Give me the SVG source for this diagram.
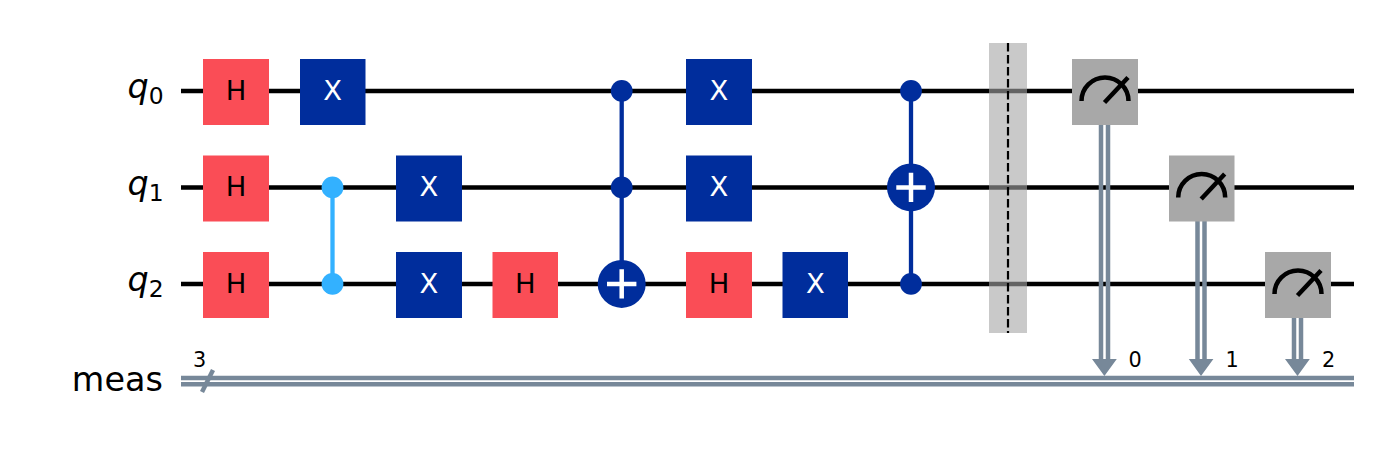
<svg xmlns="http://www.w3.org/2000/svg" width="1376" height="454" viewBox="0 0 1376 454">
<style>
text{font-family:"DejaVu Sans",sans-serif}
.wire{stroke:#000;stroke-width:4.500;fill:none}
.cw{stroke:#778899;stroke-width:4.500;fill:none}
.ah{fill:#778899}
.h{fill:#fa4d56}
.x{fill:#002d9c}
.m{fill:#a8a8a8}
.gt{font-size:27.400px;text-anchor:middle}
.lb{font-size:33.400px}
.q{font-style:italic}
.sub{font-size:23.400px}
.num{font-size:20.800px;text-anchor:middle}
.blue{stroke:#002d9c;stroke-width:4.300;fill:none}
.plus{stroke:#fff;stroke-width:4.500;fill:none}
.arc{stroke:#000;stroke-width:4.500;fill:none}
</style>
<defs>
<g id="mg"><path class="arc" d="M-23.500,10 A23.500,23.500 0 0 1 23.500,10"/><path class="arc" d="M-0.500,11.500 L23,-13.500"/></g>
</defs>
<g id="connectors">
<path class="wire" d="M181,90.900H1354M181,187.400H1354M181,283.900H1354"/>
<path class="cw" d="M181,378H1354M181,384.300H1354"/>
<path class="cw" d="M202,392L213,370"/>
<path stroke="#33b1ff" stroke-width="4.300" fill="none" d="M332.500,187.400V283.900"/>
<path class="blue" d="M621.700,90.900V283.900M911,90.900V283.900"/>
<path class="cw" d="M1101,125V362M1108,125V362M1197.500,221V362M1204.500,221V362M1294,317V362M1301,317V362"/>
<path class="ah" d="M1092,359H1116.800L1104.400,376ZM1188.800,359H1213.400L1201,376ZM1285,359H1309.800L1297.500,376Z"/>
</g>
<g id="label-q0"><text class="lb q" x="127.500" y="98.300">q</text><text class="sub" x="148.800" y="104.200">0</text></g>
<g id="label-q1"><text class="lb q" x="127.500" y="194.800">q</text><text class="sub" x="148.800" y="200.700">1</text></g>
<g id="label-q2"><text class="lb q" x="127.500" y="291.300">q</text><text class="sub" x="148.800" y="297.200">2</text></g>
<g id="label-meas"><text class="lb" x="162.800" y="390.500" text-anchor="end">meas</text></g>
<g id="reg-size"><text class="num" x="199.500" y="367">3</text></g>
<g id="h-q0"><rect class="h" x="203" y="59" width="66" height="66"/><text class="gt" x="236" y="99.800">H</text></g>
<g id="h-q1"><rect class="h" x="203" y="155.500" width="66" height="66"/><text class="gt" x="236" y="196.300">H</text></g>
<g id="h-q2"><rect class="h" x="203" y="252" width="66" height="66"/><text class="gt" x="236" y="292.800">H</text></g>
<g id="x-q0-1"><rect class="x" x="300" y="59" width="65.500" height="66"/><text class="gt" x="332.700" y="99.800" fill="#fff">X</text></g>
<g id="cz"><circle cx="332.500" cy="187.400" r="10.900" fill="#33b1ff"/><circle cx="332.500" cy="283.900" r="10.900" fill="#33b1ff"/></g>
<g id="x-q1-1"><rect class="x" x="396" y="155.500" width="66" height="66"/><text class="gt" x="429" y="196.300" fill="#fff">X</text></g>
<g id="x-q2-1"><rect class="x" x="396" y="252" width="66" height="66"/><text class="gt" x="429" y="292.800" fill="#fff">X</text></g>
<g id="h-q2-2"><rect class="h" x="492.500" y="252" width="65.500" height="66"/><text class="gt" x="525.300" y="292.800">H</text></g>
<g id="ccx-1"><circle cx="621.700" cy="90.900" r="10.900" fill="#002d9c"/><circle cx="621.700" cy="187.400" r="10.900" fill="#002d9c"/><circle cx="621.700" cy="283.900" r="24" fill="#002d9c"/><path class="plus" d="M607,283.900H636.400M621.700,269.200V298.600"/></g>
<g id="x-q0-2"><rect class="x" x="686" y="59" width="66" height="66"/><text class="gt" x="719" y="99.800" fill="#fff">X</text></g>
<g id="x-q1-2"><rect class="x" x="686" y="155.500" width="66" height="66"/><text class="gt" x="719" y="196.300" fill="#fff">X</text></g>
<g id="h-q2-3"><rect class="h" x="686" y="252" width="66" height="66"/><text class="gt" x="719" y="292.800">H</text></g>
<g id="x-q2-2"><rect class="x" x="782.500" y="252" width="65.500" height="66"/><text class="gt" x="815.300" y="292.800" fill="#fff">X</text></g>
<g id="ccx-2"><circle cx="911" cy="90.900" r="10.900" fill="#002d9c"/><circle cx="911" cy="283.900" r="10.900" fill="#002d9c"/><circle cx="911" cy="187.400" r="24" fill="#002d9c"/><path class="plus" d="M896.300,187.400H925.700M911,172.700V202.100"/></g>
<g id="barrier"><rect x="989" y="43" width="38" height="290" fill="#a5a5a5" fill-opacity="0.6"/><path d="M1008,43V333" stroke="#000" stroke-width="2.200" stroke-dasharray="8.500,3.500" fill="none"/></g>
<g id="meas-0"><rect class="m" x="1072" y="59" width="66" height="66"/><use href="#mg" x="1105" y="91"/></g>
<g id="meas-1"><rect class="m" x="1169" y="155.500" width="65.500" height="66"/><use href="#mg" x="1201.700" y="187.500"/></g>
<g id="meas-2"><rect class="m" x="1265" y="252" width="66" height="66"/><use href="#mg" x="1298" y="284"/></g>
<g id="bit-labels"><text class="num" x="1135" y="367">0</text><text class="num" x="1232" y="367">1</text><text class="num" x="1328.500" y="367">2</text></g>
</svg>
